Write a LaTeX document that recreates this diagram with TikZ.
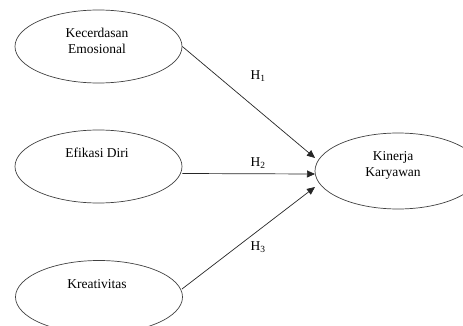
\documentclass[tikz,border=0pt]{standalone}
\usepackage{fontspec}
\setmainfont{Liberation Serif}
\usetikzlibrary{shapes.geometric,arrows.meta,calc}
\tikzset{
  var/.style={draw=black!75, line width=0.7pt, ellipse, minimum width=167pt, minimum height=73pt, inner sep=0pt},
  lbl/.style={font=\fontsize{13.5}{16}\selectfont, align=center, inner sep=0pt},
  hyp/.style={font=\fontsize{13.5}{16}\selectfont, inner sep=0pt},
  path/.style={draw=black!85, line width=0.7pt, -{Triangle[length=8pt,width=7pt]}}
}
\begin{document}
\begin{tikzpicture}[x=1pt,y=1pt]
\useasboundingbox (0,0) rectangle (463,-326);
\clip (0,0) rectangle (463,-326);
\node[var] (ke) at (98.5,-46.5) {};
\node[var] (ed) at (98.5,-166.5) {};
\node[var] (kr) at (99,-297) {};
\node[var, minimum width=166pt, minimum height=76pt] (kk) at (398,-171) {};
\node[lbl] (tke) at (97,-41) {Kecerdasan\\Emosional};
\node[lbl] (ted) at (97,-153) {Efikasi Diri};
\node[lbl] (tkr) at (97,-284) {Kreativitas};
\node[lbl] (tkk) at (393,-165.5) {Kinerja\\Karyawan};
\coordinate (s1) at (ke.east);
\coordinate (s2) at ($(ed.east)+(0,-7)$);
\coordinate (s3) at (182,-289);
\coordinate (t1) at (315,-158);
\coordinate (t2) at (315,-174);
\coordinate (t3) at (315,-187);
\draw[path] (s1) -- (t1);
\draw[path] (s2) -- (t2);
\draw[path] (s3) -- (t3);
\node[hyp] (h1) at (258,-76) {H\textsubscript{1}};
\node[hyp] (h2) at (258,-163) {H\textsubscript{2}};
\node[hyp] (h3) at (258,-247) {H\textsubscript{3}};
\end{tikzpicture}
\end{document}
